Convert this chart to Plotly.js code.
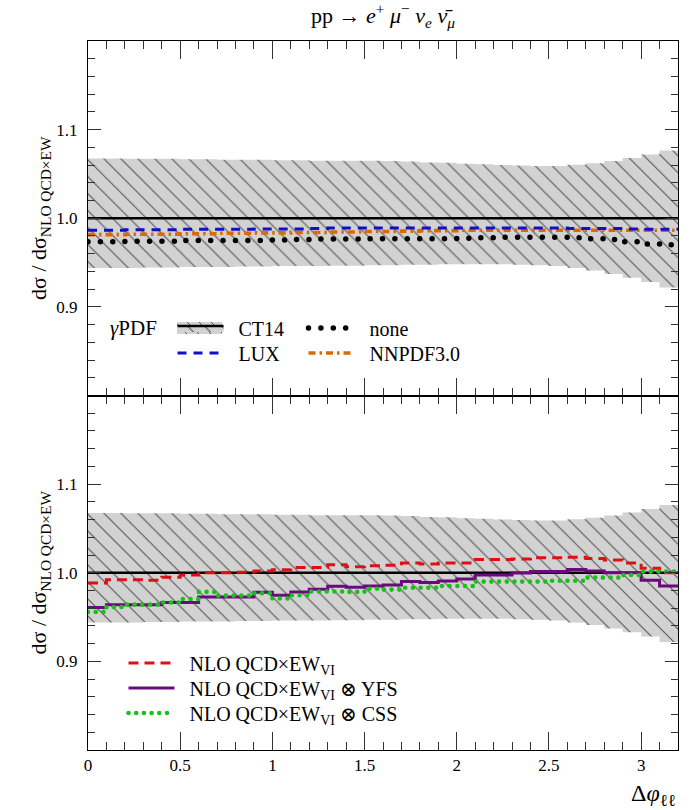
<!DOCTYPE html>
<html>
<head>
<meta charset="utf-8">
<script src="https://cdn.plot.ly/plotly-3.0.1.min.js"></script>
<style>html,body{margin:0;padding:0;background:#fff;}</style>
</head>
<body>
<div id="chart" style="width:700px;height:810px;"></div>
<script>
// Bin edges in Δφ_ll (32 bins of 0.1)
const binEdges = [0,0.1,0.2,0.3,0.4,0.5,0.6,0.7,0.8,0.9,1.0,1.1,1.2,1.3,1.4,1.5,1.6,1.7,1.8,1.9,2.0,2.1,2.2,2.3,2.4,2.5,2.6,2.7,2.8,2.9,3.0,3.1,3.2];

// CT14 photon-PDF uncertainty band (ratio)
const bandUpper = [1.0675,1.0675,1.067,1.067,1.067,1.0665,1.0665,1.066,1.066,1.066,1.0655,1.0655,1.065,1.065,1.065,1.0648,1.0645,1.064,1.063,1.0625,1.0615,1.061,1.060,1.0595,1.059,1.059,1.0605,1.062,1.0645,1.068,1.072,1.0765];
const bandLower = [0.944,0.944,0.944,0.9445,0.9445,0.945,0.945,0.945,0.9455,0.9455,0.946,0.946,0.946,0.9465,0.9465,0.947,0.947,0.9475,0.9475,0.948,0.948,0.948,0.948,0.9475,0.947,0.946,0.944,0.941,0.937,0.933,0.928,0.922];
const ct14 = [1,1,1,1,1,1,1,1,1,1,1,1,1,1,1,1,1,1,1,1,1,1,1,1,1,1,1,1,1,1,1,1];

// Top panel: photon PDFs
const lux   = [0.9865,0.9865,0.987,0.987,0.987,0.9875,0.9875,0.9875,0.9875,0.988,0.988,0.988,0.9885,0.989,0.989,0.989,0.989,0.989,0.989,0.989,0.989,0.989,0.989,0.989,0.989,0.989,0.9885,0.9885,0.9885,0.988,0.9875,0.9875];
const nnpdf = [0.9815,0.9815,0.982,0.982,0.982,0.9825,0.9825,0.983,0.983,0.9835,0.9835,0.984,0.984,0.9845,0.9845,0.985,0.985,0.9855,0.986,0.986,0.9865,0.9865,0.9865,0.9865,0.9865,0.9865,0.9865,0.9865,0.9865,0.9865,0.9865,0.9865];
const noneP = [0.9735,0.9735,0.974,0.974,0.974,0.975,0.975,0.975,0.975,0.975,0.9755,0.976,0.9765,0.9765,0.9765,0.977,0.977,0.977,0.977,0.977,0.9775,0.978,0.9785,0.9785,0.9785,0.9785,0.978,0.977,0.976,0.9735,0.971,0.970];

// Bottom panel: EW_VI and QED showers
const ewvi = [0.9885,0.992,0.992,0.9915,0.995,0.9975,1.000,1.000,1.0005,1.002,1.0035,1.006,1.006,1.009,1.0068,1.008,1.0085,1.011,1.010,1.011,1.011,1.015,1.015,1.0155,1.017,1.017,1.0175,1.016,1.0145,1.011,1.005,1.000];
const yfs  = [0.9607,0.964,0.964,0.964,0.9664,0.9664,0.9727,0.9727,0.9727,0.978,0.9746,0.9784,0.9814,0.9848,0.9836,0.985,0.9862,0.990,0.989,0.9907,0.993,0.9975,0.9975,0.9998,1.0013,1.0013,1.0036,1.002,1.000,1.000,0.9915,0.985];
const css  = [0.9558,0.9614,0.964,0.964,0.9664,0.9704,0.9784,0.9742,0.9742,0.9769,0.9709,0.9746,0.9788,0.9788,0.9784,0.982,0.981,0.983,0.983,0.985,0.985,0.990,0.990,0.990,0.990,0.991,0.991,0.9945,0.9945,0.9975,1.0013,1.0013];

const ext = a => a.concat([a[a.length - 1]]);
const SERIF = '"Liberation Serif", "DejaVu Serif", serif';
const SP = '\u2002'; // en space between legend symbol and text

const hatch = {shape: '\\', size: 12, solidity: 0.09, fgcolor: '#555555', bgcolor: '#d2d2d2', fgopacity: 1};

function bandTraces(xa, ya, showRef) {
  return [
    {x: binEdges, y: ext(bandLower), xaxis: xa, yaxis: ya, mode: 'lines', line: {shape: 'hv', width: 0, color: 'rgba(0,0,0,0)'}, showlegend: false, hoverinfo: 'skip'},
    {x: binEdges, y: ext(ct14), xaxis: xa, yaxis: ya, mode: 'lines', name: SP + 'CT14', legend: 'legend', showlegend: showRef,
     line: {shape: 'hv', width: 2.6, color: '#000000'}, fill: 'tonexty', fillcolor: '#d2d2d2', fillpattern: hatch},
    {x: binEdges, y: ext(bandUpper), xaxis: xa, yaxis: ya, mode: 'lines', line: {shape: 'hv', width: 0, color: 'rgba(0,0,0,0)'},
     fill: 'tonexty', fillcolor: '#d2d2d2', fillpattern: hatch, showlegend: false, hoverinfo: 'skip'}
  ];
}

const traces = [].concat(
  bandTraces('x2', 'y2', true),
  [
    {x: binEdges, y: ext(noneP), xaxis: 'x2', yaxis: 'y2', mode: 'lines', name: SP + 'none', legend: 'legend2',
     line: {shape: 'hv', width: 5.5, color: '#000000', dash: '0px,12.4px'}},
    {x: binEdges, y: ext(nnpdf), xaxis: 'x2', yaxis: 'y2', mode: 'lines', name: SP + 'NNPDF3.0', legend: 'legend4',
     line: {shape: 'hv', width: 3.6, color: '#dd6a00', dash: '7px,4px,2.5px,4px'}},
    {x: binEdges, y: ext(lux), xaxis: 'x2', yaxis: 'y2', mode: 'lines', name: SP + 'LUX', legend: 'legend3',
     line: {shape: 'hv', width: 3, color: '#1010c8', dash: '9px,7px'}}
  ],
  bandTraces('x', 'y', false),
  [
    {x: binEdges, y: ext(ewvi), xaxis: 'x', yaxis: 'y', mode: 'lines', name: SP + 'NLO QCD×EW<sub>VI</sub>', legend: 'legend5',
     line: {shape: 'hv', width: 3, color: '#dd1111', dash: '10px,6px'}},
    {x: binEdges, y: ext(yfs), xaxis: 'x', yaxis: 'y', mode: 'lines', name: SP + 'NLO QCD×EW<sub>VI</sub> ⊗ YFS', legend: 'legend6',
     line: {shape: 'hv', width: 3, color: '#6b0a7d'}},
    {x: binEdges, y: ext(css), xaxis: 'x', yaxis: 'y', mode: 'lines', name: SP + 'NLO QCD×EW<sub>VI</sub> ⊗ CSS', legend: 'legend7',
     line: {shape: 'hv', width: 4.6, color: '#18c018', dash: '0px,7.7px'}}
  ]
);

const xCommon = {
  range: [0, 3.2], tick0: 0, dtick: 0.5, ticks: 'inside', ticklen: 18, tickwidth: 1, tickcolor: '#333',
  minor: {dtick: 0.1, tick0: 0, ticks: 'inside', ticklen: 8, tickwidth: 1, tickcolor: '#333'},
  showline: true, linecolor: '#000', linewidth: 1, mirror: 'allticks', showgrid: false, zeroline: false,
  tickfont: {family: SERIF, size: 17, color: '#000'}, fixedrange: true
};
const yTitle = {text: 'dσ / dσ<sub>NLO QCD×EW</sub>', font: {family: SERIF, size: 22, color: '#000'}, standoff: 3};
const yCommon = {
  range: [0.8, 1.2], tickmode: 'array', tickvals: [0.9, 1.0, 1.1], ticktext: ['0.9', '1.0', '1.1'],
  ticks: 'inside', ticklen: 13, tickwidth: 1, tickcolor: '#333',
  minor: {dtick: 0.02, tick0: 0.8, ticks: 'inside', ticklen: 7, tickwidth: 1, tickcolor: '#333'},
  showline: true, linecolor: '#000', linewidth: 1, mirror: 'allticks', showgrid: false, zeroline: false,
  tickfont: {family: SERIF, size: 17, color: '#000'}, ticklabelstandoff: 6, title: yTitle, fixedrange: true
};

const legendFont = {family: SERIF, size: 20, color: '#000'};
// pixel helpers for legend placement (plot area: x 88..678, y 41..750)
const px = v => (v - 88) / 590;
const py = v => (750 - v) / 709;
function leg(xpix, ypix) {
  return {x: px(xpix - 4.5), xanchor: 'left', y: py(ypix), yanchor: 'middle', bgcolor: 'rgba(0,0,0,0)',
          font: legendFont, itemwidth: 46, tracegroupgap: 0, traceorder: 'normal', borderwidth: 0};
}

// hatched swatch behind the CT14 legend line
const swatch = [{type: 'rect', xref: 'paper', yref: 'paper', x0: px(177), x1: px(222), y0: py(334), y1: py(322),
                 fillcolor: '#d2d2d2', line: {width: 0}, layer: 'above'}];
for (let k = 0; k < 5; k++) {
  const xs = 175 + k * 12;
  let x0 = xs, y0 = 322, x1 = xs + 12, y1 = 334;
  if (x0 < 177) { y0 += 177 - x0; x0 = 177; }
  if (x1 > 222) { y1 -= x1 - 222; x1 = 222; }
  if (x1 > x0) swatch.push({type: 'line', xref: 'paper', yref: 'paper', x0: px(x0), y0: py(y0), x1: px(x1), y1: py(y1),
                            line: {color: '#555', width: 1}, layer: 'above'});
}

const layout = {
  width: 700, height: 810,
  margin: {l: 88, r: 22, t: 41, b: 60},
  paper_bgcolor: '#fff', plot_bgcolor: '#fff',
  title: {text: 'pp → <i>e</i><sup>+</sup> <i>μ</i><sup>−</sup> <i>ν<sub>e</sub></i> <i>ν̄<sub>μ</sub></i>',
          font: {family: SERIF, size: 22, color: '#000'}, x: 0.5, xref: 'paper', xanchor: 'center',
          y: 0.981, yref: 'container', yanchor: 'middle'},
  xaxis: Object.assign({}, xCommon, {domain: [0, 1], anchor: 'y'}),
  xaxis2: Object.assign({}, xCommon, {domain: [0, 1], anchor: 'y2', matches: 'x', showticklabels: false}),
  yaxis: Object.assign({}, yCommon, {domain: [0, 0.5], anchor: 'x'}),
  yaxis2: Object.assign({}, yCommon, {domain: [0.5, 1], anchor: 'x2'}),
  showlegend: true,
  legend: leg(177, 328),
  legend2: leg(308, 328),
  legend3: leg(177, 353),
  legend4: leg(308, 353),
  legend5: leg(128, 663),
  legend6: leg(128, 688),
  legend7: leg(128, 713),
  shapes: swatch,
  annotations: [
    {text: '<i>γ</i>PDF', xref: 'paper', yref: 'paper', x: px(108), y: py(328), xanchor: 'left', yanchor: 'middle',
     showarrow: false, font: {family: SERIF, size: 21, color: '#000'}},
    {text: 'Δ<i>φ</i><sub>ℓℓ</sub>', xref: 'paper', yref: 'paper', x: 1.0, y: -0.064, xanchor: 'right', yanchor: 'middle',
     showarrow: false, font: {family: SERIF, size: 24, color: '#000'}}
  ]
};

Plotly.newPlot('chart', traces, layout, {staticPlot: true, displayModeBar: false}).then(gd => {
  // round caps for dotted lines
  gd.querySelectorAll('path').forEach(p => {
    const d = p.style.strokeDasharray || '';
    if (d.replace(/\s/g, '').startsWith('0px')) p.style.strokeLinecap = 'round';
  });
});
</script>
</body>
</html>
